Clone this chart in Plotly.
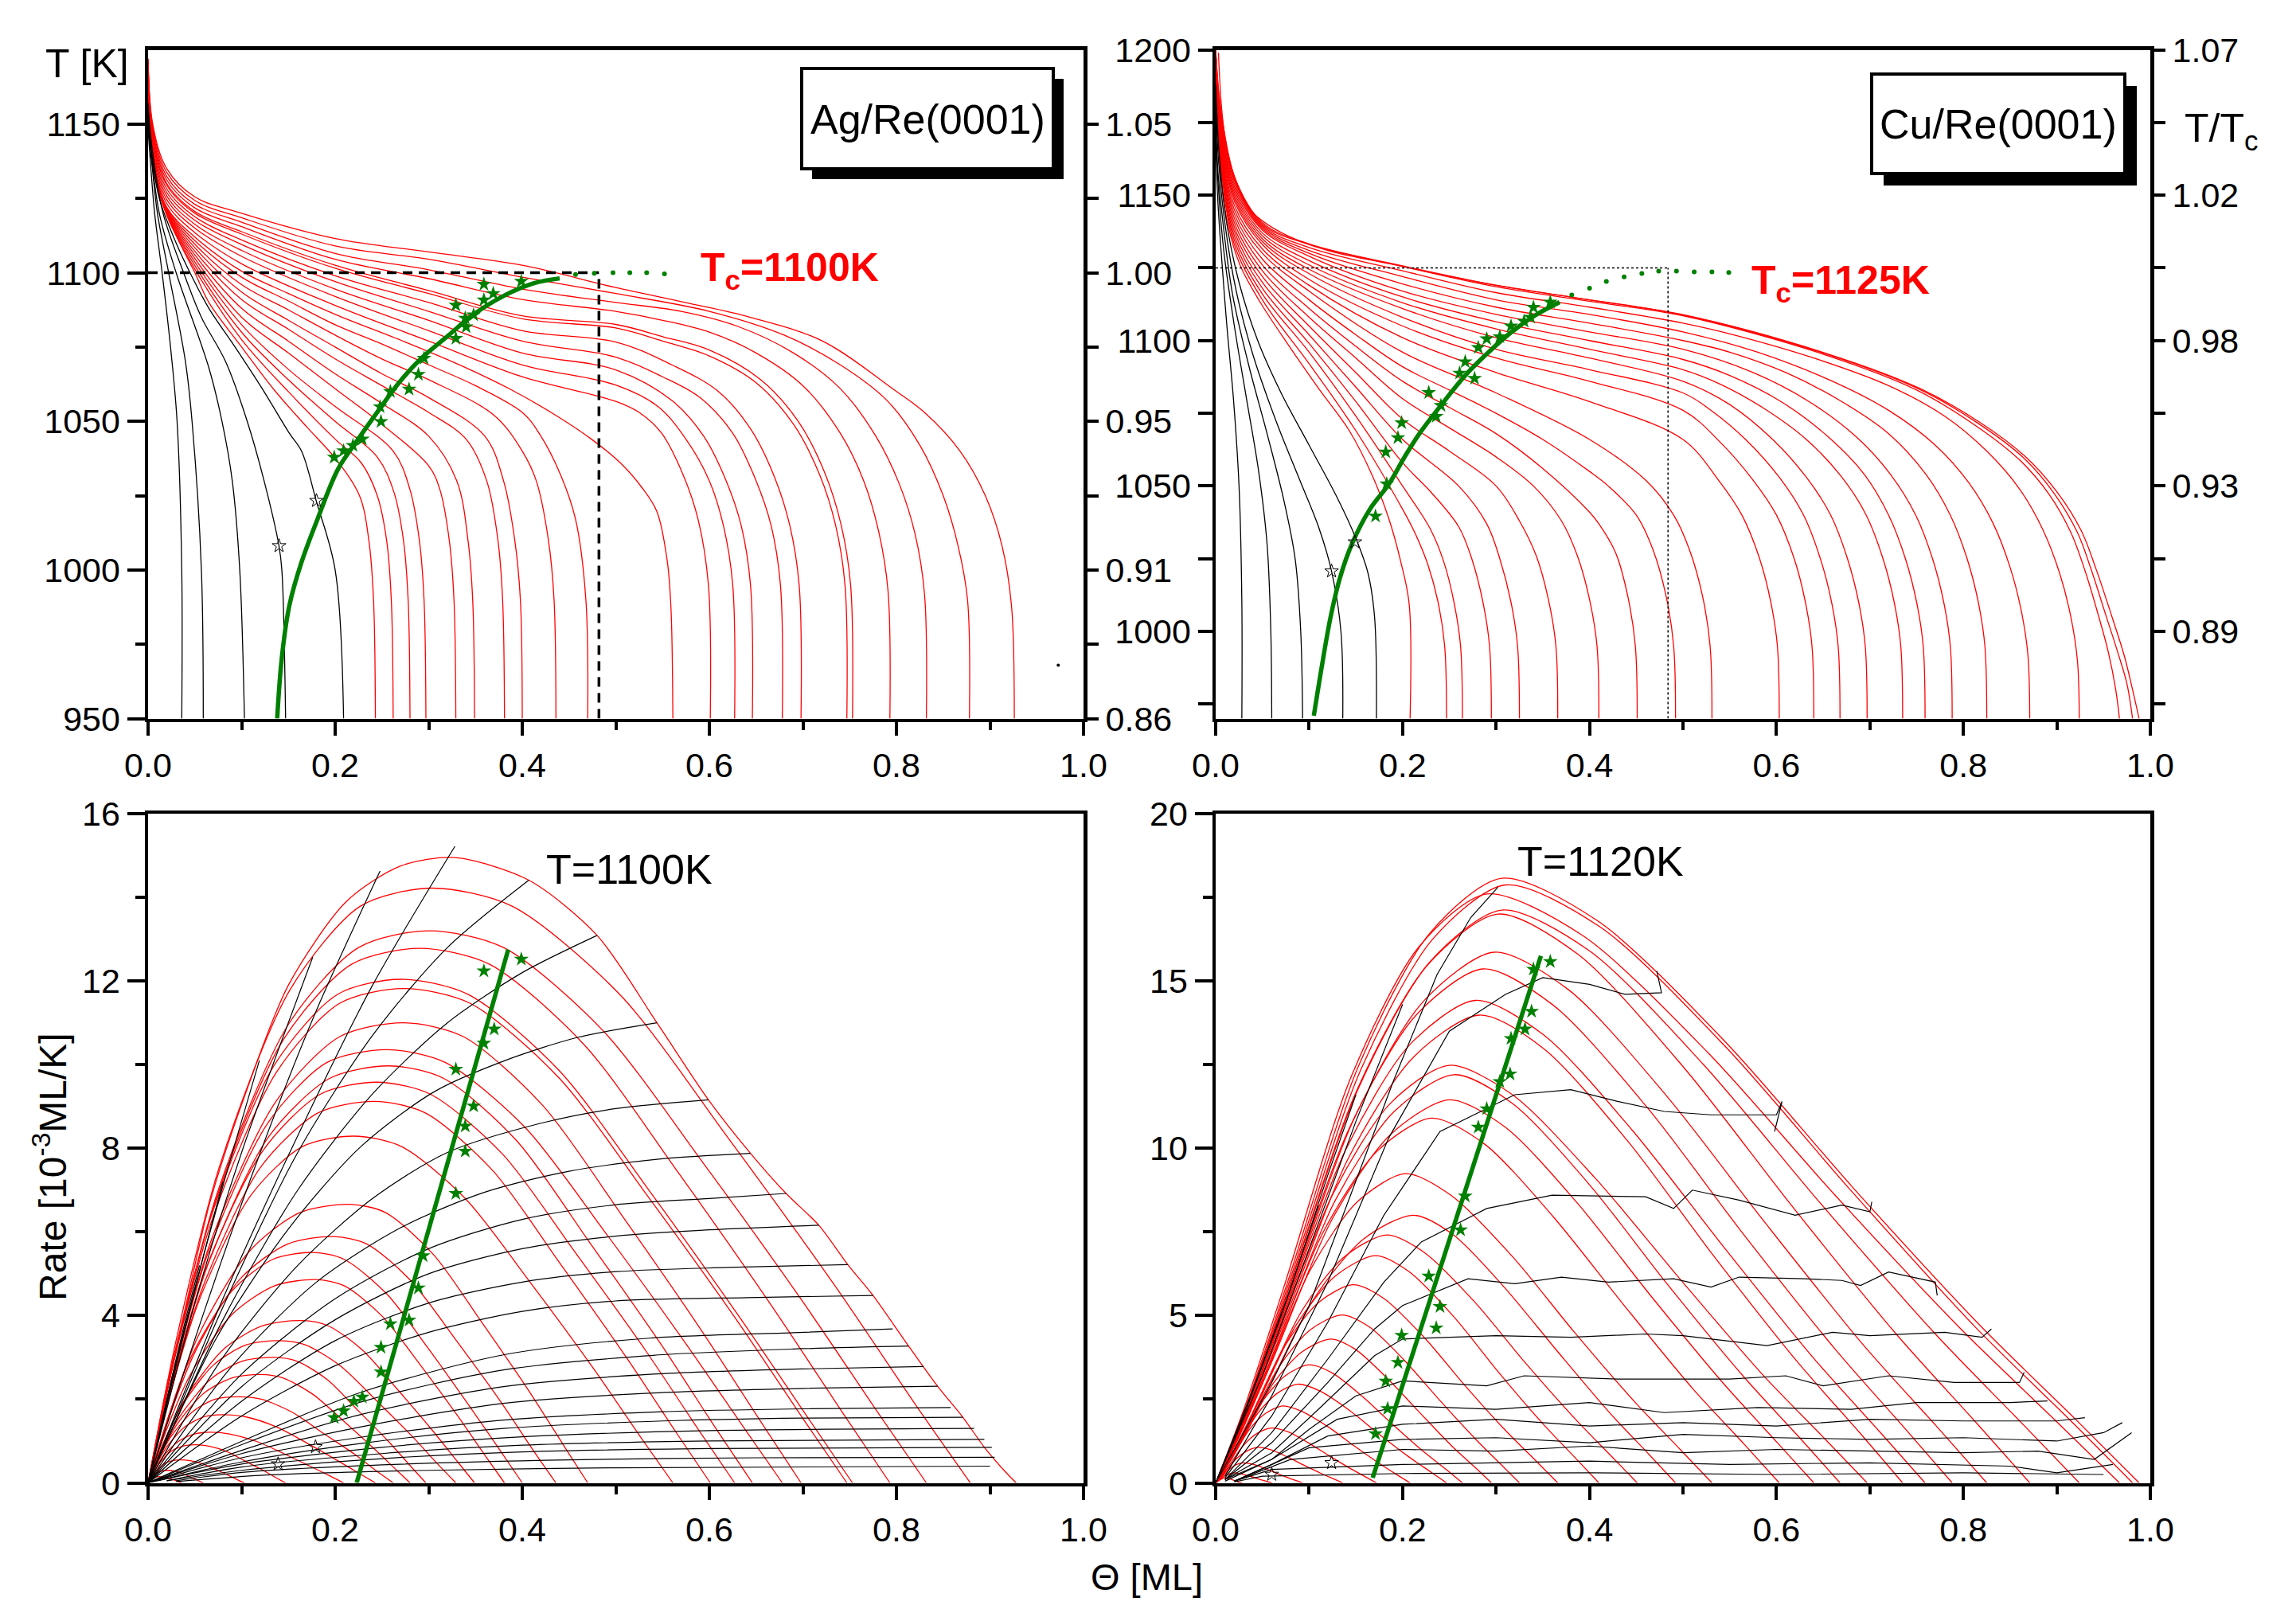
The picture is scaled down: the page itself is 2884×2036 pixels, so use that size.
import plotly.graph_objects as go

W, H = 2884, 2036

# ======================= DATA =======================
# ---- Top-left: Ag/Re(0001), coverage Theta [ML] vs temperature T [K] ----
AG_TC = 1100
AG_THETA_C = 0.482
AG_RED = [
    [[0.243,950],[0.241,990],[0.236,1010],[0.226,1025],[0.2,1037.6],[0.17,1048],[0.135,1060.5],[0.1,1075],[0.065,1090],[0.05,1100],[0.031,1112],[0.014,1126],[0.006,1138],[0,1162]],
    [[0.262,950],[0.26,990],[0.255,1010],[0.245,1025],[0.228,1036],[0.2,1044],[0.15,1060],[0.1,1077.5],[0.05,1101.2],[0.02,1119.3],[0.005,1136.2],[0,1163]],
    [[0.28,950],[0.278,990],[0.273,1010],[0.263,1026],[0.245,1038],[0.2,1050],[0.15,1064],[0.1,1080],[0.05,1102.4],[0.02,1119.6],[0.005,1136.4],[0,1163]],
    [[0.297,950],[0.295,990],[0.29,1010],[0.28,1027],[0.262,1040],[0.2,1055],[0.15,1067.5],[0.1,1082.5],[0.05,1103.6],[0.02,1119.9],[0.005,1136.6],[0,1164]],
    [[0.329,950],[0.327,990],[0.322,1010],[0.312,1027],[0.3,1035],[0.25,1049],[0.2,1061],[0.15,1073],[0.1,1085],[0.05,1104.8],[0.02,1120.2],[0.005,1136.8],[0,1164]],
    [[0.349,950],[0.347,990],[0.342,1010],[0.33,1030],[0.3,1045],[0.25,1056],[0.2,1066],[0.15,1077],[0.1,1088],[0.05,1106],[0.02,1120.5],[0.005,1137],[0,1165]],
    [[0.381,950],[0.379,990],[0.374,1010],[0.362,1030],[0.34,1044],[0.3,1053],[0.25,1062],[0.2,1071],[0.15,1081],[0.1,1091],[0.05,1107.2],[0.02,1120.8],[0.005,1137.2],[0,1165]],
    [[0.4,950],[0.398,990],[0.392,1010],[0.38,1030],[0.36,1045],[0.3,1058],[0.25,1066],[0.2,1075],[0.15,1084],[0.1,1093.5],[0.05,1108.4],[0.02,1121.1],[0.005,1137.4],[0,1166]],
    [[0.436,950],[0.434,990],[0.428,1010],[0.415,1030],[0.4,1040],[0.37,1052],[0.3,1064],[0.25,1071],[0.2,1079],[0.15,1087.5],[0.1,1096],[0.05,1109.6],[0.02,1121.4],[0.005,1137.6],[0,1166]],
    [[0.47,950],[0.468,990],[0.457,1017],[0.441,1032],[0.418,1046],[0.4,1053],[0.35,1062],[0.3,1069],[0.25,1076],[0.2,1082.5],[0.15,1090.5],[0.1,1098.5],[0.05,1110.8],[0.02,1121.7],[0.005,1137.8],[0,1167]],
    [[0.561,950],[0.559,987],[0.555,1003],[0.544,1019.6],[0.528,1027.7],[0.505,1036],[0.474,1044],[0.436,1052],[0.389,1060.5],[0.335,1068.7],[0.274,1076.8],[0.2,1086],[0.15,1093],[0.1,1100.5],[0.05,1112],[0.02,1122],[0.005,1138],[0,1167]],
    [[0.601,950],[0.599,995],[0.588,1017],[0.572,1032],[0.549,1046],[0.525,1053],[0.5,1056.7],[0.4,1065],[0.3,1077],[0.2,1089],[0.1,1103],[0.05,1113.5],[0.02,1123.3],[0.005,1139.2],[0,1168]],
    [[0.627,950],[0.625,995],[0.615,1015],[0.6,1030],[0.575,1044],[0.545,1055],[0.5,1062.2],[0.4,1069],[0.3,1080.5],[0.2,1092],[0.1,1105.5],[0.05,1115],[0.02,1124.6],[0.005,1140.4],[0,1168]],
    [[0.646,950],[0.644,995],[0.634,1015],[0.618,1030],[0.594,1045],[0.56,1057],[0.5,1067.3],[0.4,1073],[0.3,1084],[0.2,1094.5],[0.1,1107.5],[0.05,1116.3],[0.02,1125.8],[0.005,1141.6],[0,1169]],
    [[0.678,950],[0.676,995],[0.666,1015],[0.65,1030],[0.625,1046],[0.59,1058],[0.55,1065],[0.5,1071.6],[0.4,1077],[0.3,1087],[0.2,1097],[0.1,1109.5],[0.05,1117.6],[0.02,1127],[0.005,1142.8],[0,1169]],
    [[0.698,950],[0.696,995],[0.686,1015],[0.67,1031],[0.645,1047],[0.61,1060],[0.56,1069],[0.5,1076.7],[0.4,1080.5],[0.3,1090],[0.2,1099],[0.1,1111],[0.05,1118.8],[0.02,1128.2],[0.005,1144],[0,1170]],
    [[0.747,950],[0.745,995],[0.735,1015],[0.718,1032],[0.69,1049],[0.65,1063],[0.6,1072],[0.55,1077],[0.5,1081.4],[0.4,1084.5],[0.3,1093],[0.2,1101.5],[0.1,1113],[0.05,1120],[0.02,1129.4],[0.005,1145.2],[0,1170]],
    [[0.753,950],[0.751,995],[0.741,1015],[0.723,1033],[0.695,1050],[0.655,1064],[0.6,1074],[0.55,1078.5],[0.5,1082.6],[0.4,1085.5],[0.3,1094],[0.2,1102.5],[0.1,1113.8],[0.05,1120.6],[0.02,1130],[0.005,1145.8],[0,1170]],
    [[0.793,950],[0.791,993],[0.781,1013],[0.765,1030],[0.74,1046],[0.7,1062],[0.65,1073],[0.6,1080],[0.55,1084],[0.5,1087],[0.4,1091],[0.3,1098],[0.2,1104.5],[0.1,1115.5],[0.05,1121.8],[0.02,1131.2],[0.005,1147],[0,1171]],
    [[0.832,950],[0.83,992],[0.82,1012],[0.803,1029],[0.778,1045],[0.74,1061],[0.69,1073],[0.63,1082],[0.57,1087],[0.5,1090],[0.4,1094.5],[0.3,1101],[0.2,1106.5],[0.1,1117],[0.05,1123],[0.02,1132.4],[0.005,1148],[0,1171]],
    [[0.878,950],[0.876,990],[0.866,1008],[0.85,1025],[0.825,1042],[0.79,1057],[0.74,1069],[0.68,1079],[0.6,1087],[0.5,1093],[0.4,1098.5],[0.3,1104.5],[0.2,1109],[0.1,1118.5],[0.05,1124.3],[0.02,1133.7],[0.005,1149],[0,1172]],
    [[0.926,950],[0.923,988],[0.913,1008],[0.895,1025],[0.868,1040],[0.83,1053],[0.798,1060.5],[0.721,1077],[0.644,1085],[0.574,1090],[0.5,1095],[0.4,1102.5],[0.3,1107],[0.2,1111.5],[0.1,1120],[0.05,1125.5],[0.02,1135],[0.005,1150],[0,1172]],
]
AG_BLACK = [
    [[0.036,950],[0.036,1000],[0.031,1050],[0.024,1075],[0.015,1100],[0.007,1120],[0.003,1135],[0,1148]],
    [[0.059,950],[0.057,1000],[0.047,1050],[0.04,1070],[0.022,1100],[0.01,1120],[0.004,1137],[0,1150]],
    [[0.103,950],[0.098,1000],[0.09,1030],[0.079,1050],[0.065,1068],[0.03,1100],[0.012,1120],[0.004,1138],[0,1152]],
    [[0.147,950],[0.143,1000],[0.14,1008],[0.124,1030],[0.106,1050],[0.083,1070],[0.057,1085],[0.038,1100],[0.016,1120],[0.005,1140],[0,1155]],
    [[0.209,950],[0.2,1000],[0.18,1023],[0.164,1040],[0.151,1046],[0.122,1061],[0.093,1075],[0.065,1088],[0.048,1098],[0.03,1110],[0.012,1125],[0.004,1140],[0,1157]],
]
AG_FIT = [[0.138,950],[0.143,970.6],[0.151,988],[0.164,1002.6],[0.181,1017],[0.203,1033.9],[0.223,1043.3],[0.246,1053.5],[0.268,1062.9],[0.291,1070.9],[0.321,1078.9],[0.346,1085.5],[0.379,1092],[0.412,1096.4],[0.44,1098.1]]
AG_STARS = [[0.199,1037.9],[0.209,1040.1],[0.219,1041.9],[0.229,1044.0],[0.249,1049.9],[0.248,1054.9],[0.259,1060.0],[0.279,1060.8],[0.289,1065.8],[0.295,1071.2],[0.329,1077.9],[0.34,1081.8],[0.339,1084.7],[0.348,1085.8],[0.329,1089.1],[0.359,1090.8],[0.369,1093.0],[0.359,1096.1],[0.399,1097.1]]
AG_OPEN_STARS = [[0.18,1023.3],[0.14,1008.1]]
AG_TC_DOTS = [[0.457,1099.4],[0.477,1099.8],[0.497,1100],[0.515,1100],[0.533,1100],[0.552,1099.6]]
AG_SPECK = [[0.973,968]]

# ---- Top-right: Cu/Re(0001) ----
CU_TC = 1125
CU_THETA_C = 0.484
CU_RED = [
    [[0.208,970],[0.207,1009.5],[0.198,1024],[0.185,1039],[0.167,1054],[0.143,1069],[0.11,1083.6],[0.078,1098.4],[0.048,1113],[0.026,1126],[0.013,1140],[0.006,1155],[0.002,1175],[0,1195]],
    [[0.247,970],[0.245,995],[0.238,1010],[0.227,1023],[0.213,1034],[0.2,1042],[0.15,1069],[0.1,1092],[0.05,1114],[0.02,1133],[0.005,1162],[0,1196]],
    [[0.264,970],[0.262,995],[0.255,1010],[0.244,1024],[0.23,1035],[0.2,1050],[0.15,1074],[0.1,1096],[0.05,1116],[0.02,1134.5],[0.005,1163],[0,1196]],
    [[0.295,970],[0.293,995],[0.286,1010],[0.274,1025],[0.26,1036],[0.23,1048],[0.2,1058],[0.15,1079],[0.1,1099],[0.05,1118],[0.02,1136],[0.005,1164],[0,1197]],
    [[0.325,970],[0.323,995],[0.316,1010],[0.304,1025],[0.29,1037],[0.26,1050],[0.2,1066],[0.15,1084],[0.1,1102],[0.05,1120],[0.02,1137.5],[0.005,1165],[0,1197]],
    [[0.366,970],[0.364,995],[0.356,1011],[0.343,1026],[0.325,1038],[0.3,1050],[0.25,1062],[0.2,1073],[0.15,1089],[0.1,1105],[0.05,1122],[0.02,1139],[0.005,1166],[0,1198]],
    [[0.41,970],[0.408,995],[0.4,1011],[0.387,1026],[0.37,1038],[0.34,1050],[0.3,1060],[0.25,1070],[0.2,1080],[0.15,1094],[0.1,1108],[0.05,1124],[0.02,1140.5],[0.005,1167],[0,1198]],
    [[0.451,970],[0.449,995],[0.441,1012],[0.428,1027],[0.41,1037],[0.4,1041],[0.35,1056],[0.3,1068],[0.25,1077],[0.2,1086],[0.15,1098],[0.1,1111],[0.05,1126],[0.02,1142],[0.005,1168],[0,1199]],
    [[0.492,970],[0.49,995],[0.482,1012],[0.468,1028],[0.45,1040],[0.42,1050],[0.4,1055],[0.35,1066],[0.3,1075],[0.25,1083],[0.2,1091],[0.15,1102],[0.1,1114],[0.05,1128],[0.02,1143.5],[0.005,1169],[0,1199]],
    [[0.531,970],[0.529,995],[0.521,1012],[0.507,1028],[0.49,1040],[0.46,1052],[0.4,1066],[0.3,1082],[0.2,1096],[0.1,1117],[0.05,1130],[0.02,1145],[0.005,1170],[0,1200]],
    [[0.603,970],[0.601,995],[0.594,1010],[0.582,1025],[0.563,1040],[0.538,1052],[0.5,1066],[0.4,1079],[0.3,1089],[0.2,1101],[0.1,1119],[0.05,1131.5],[0.02,1146.5],[0.005,1171],[0,1200]],
    [[0.64,970],[0.638,995],[0.631,1010],[0.619,1025],[0.6,1040],[0.575,1052],[0.54,1065],[0.5,1076],[0.4,1086],[0.3,1094],[0.2,1105],[0.1,1121],[0.05,1133],[0.02,1148],[0.005,1172],[0,1200]],
    [[0.668,970],[0.666,995],[0.659,1010],[0.647,1025],[0.629,1040],[0.603,1053],[0.567,1066],[0.53,1076],[0.5,1082],[0.4,1090],[0.3,1097],[0.2,1108],[0.1,1123],[0.05,1134],[0.02,1149],[0.005,1173],[0,1200]],
    [[0.697,970],[0.695,995],[0.688,1010],[0.676,1025],[0.658,1040],[0.632,1053],[0.596,1066],[0.55,1078],[0.5,1086],[0.4,1094],[0.3,1101],[0.2,1111],[0.1,1124.5],[0.05,1135],[0.02,1150],[0.005,1174],[0,1200]],
    [[0.735,970],[0.733,995],[0.726,1010],[0.714,1025],[0.696,1040],[0.67,1053],[0.632,1066],[0.585,1077],[0.54,1085],[0.5,1090],[0.4,1097],[0.3,1104],[0.2,1113],[0.1,1126],[0.05,1136],[0.02,1151],[0.005,1175],[0,1200]],
    [[0.759,970],[0.757,995],[0.75,1010],[0.738,1025],[0.72,1040],[0.694,1054],[0.655,1067],[0.605,1079],[0.55,1088],[0.5,1093.5],[0.4,1100],[0.3,1106.5],[0.2,1115],[0.1,1127.5],[0.05,1137],[0.02,1152],[0.005,1176],[0,1200]],
    [[0.788,970],[0.786,995],[0.779,1010],[0.767,1025],[0.749,1040],[0.722,1054],[0.685,1067],[0.635,1079],[0.575,1089],[0.5,1097],[0.4,1103],[0.3,1109],[0.2,1117],[0.1,1129],[0.05,1138],[0.02,1153],[0.005,1177],[0,1200]],
    [[0.825,970],[0.823,995],[0.816,1010],[0.804,1025],[0.786,1040],[0.76,1054],[0.72,1068],[0.67,1079],[0.61,1089],[0.55,1096],[0.5,1100],[0.4,1106],[0.3,1111.5],[0.2,1119.5],[0.1,1130],[0.05,1138.5],[0.02,1154],[0.005,1177.5],[0,1200]],
    [[0.871,970],[0.869,992],[0.862,1007],[0.85,1022],[0.832,1037],[0.806,1051],[0.77,1064],[0.72,1076],[0.66,1086],[0.58,1096],[0.5,1103],[0.4,1109],[0.3,1114],[0.2,1122],[0.1,1131],[0.05,1139],[0.02,1155],[0.005,1178.5],[0,1200]],
    [[0.924,970],[0.922,990],[0.915,1005],[0.903,1020],[0.885,1035],[0.86,1049],[0.825,1062],[0.78,1074],[0.72,1084.5],[0.64,1094],[0.56,1101.5],[0.5,1106],[0.4,1111.5],[0.3,1116.5],[0.2,1124],[0.1,1132],[0.05,1139.5],[0.02,1155.5],[0.005,1179],[0,1200]],
    [[0.967,970],[0.963,980],[0.955,993],[0.944,1006],[0.93,1021],[0.915,1034],[0.892,1047],[0.86,1059],[0.812,1071],[0.75,1083],[0.653,1095],[0.5,1108.5],[0.4,1113.5],[0.3,1118.5],[0.2,1125.5],[0.1,1133],[0.05,1140],[0.02,1156],[0.005,1180],[0,1200]],
    [[0.981,970],[0.975,982],[0.965,993],[0.952,1006],[0.937,1021],[0.922,1034],[0.897,1047.5],[0.865,1059.5],[0.816,1071.5],[0.752,1083.4],[0.655,1095.2],[0.5,1108.7],[0.4,1114],[0.3,1119],[0.2,1125.7],[0.1,1133.2],[0.05,1140.5],[0.02,1156.5],[0.005,1181],[0,1200]],
    [[0.988,970],[0.981,980],[0.972,991.8],[0.959,1005],[0.942,1021.4],[0.926,1034.7],[0.9,1048],[0.867,1059.9],[0.818,1071.8],[0.753,1083.6],[0.655,1095.4],[0.5,1108.9],[0.381,1114.9],[0.283,1120],[0.185,1126.5],[0.12,1131],[0.071,1137],[0.039,1144.3],[0.022,1154.6],[0.009,1172.4],[0.003,1199]],
]
CU_BLACK = [
    [[0.028,970],[0.028,1010],[0.025,1050],[0.019,1080],[0.012,1105],[0.006,1130],[0.002,1150],[0,1170]],
    [[0.06,970],[0.059,1000],[0.055,1030],[0.046,1055],[0.033,1080],[0.02,1105],[0.009,1130],[0.003,1152],[0,1175]],
    [[0.093,970],[0.091,1000],[0.085,1025],[0.073,1045],[0.055,1068],[0.035,1092],[0.018,1116],[0.008,1140],[0.002,1160],[0,1180]],
    [[0.136,970],[0.134,1000],[0.124,1020.7],[0.11,1036],[0.09,1052],[0.065,1072],[0.04,1095],[0.022,1117],[0.01,1140],[0.003,1162],[0,1185]],
    [[0.172,970],[0.17,1005],[0.163,1020],[0.15,1032],[0.13,1046],[0.1,1064],[0.07,1082],[0.045,1100],[0.025,1120],[0.012,1140],[0.004,1163],[0,1188]],
]
CU_FIT = [[0.105,971],[0.114,988.8],[0.123,1005],[0.133,1018.4],[0.146,1030.2],[0.165,1042],[0.185,1050.5],[0.202,1059.9],[0.218,1068],[0.241,1077.7],[0.267,1088],[0.29,1095.4],[0.316,1102.8],[0.342,1108.7],[0.368,1113.2]]
CU_STARS = [[0.171,1039.6],[0.183,1050.7],[0.182,1061.7],[0.195,1066.6],[0.199,1071.7],[0.228,1082.1],[0.236,1073.9],[0.241,1077.7],[0.261,1088.8],[0.277,1087],[0.267,1092.7],[0.281,1097.6],[0.29,1100.6],[0.304,1101.3],[0.316,1105],[0.33,1106.6],[0.34,1111.4],[0.337,1108],[0.358,1113.2]]
CU_OPEN_STARS = [[0.149,1030.7],[0.124,1020.7]]
CU_TC_DOTS = [[0.381,1115.7],[0.4,1118],[0.418,1120.3],[0.437,1121.9],[0.456,1123.1],[0.474,1123.9],[0.493,1123.9],[0.512,1123.6],[0.531,1123.6],[0.549,1123.4]]

# ---- Bottom-left: Ag rate [1e-3 ML/K] vs Theta ----
AG_RATE_RED = [
    [[0,0],[0.02,2.3],[0.04,4.2],[0.066,6.7],[0.104,9.3],[0.15,11.9],[0.212,13.9],[0.27,14.75],[0.328,14.95],[0.407,14.41],[0.48,13.09],[0.544,11.0],[0.599,9.16],[0.644,7.88],[0.682,6.92],[0.717,6.16],[0.748,5.22],[0.775,4.48],[0.813,3.27],[0.844,2.31],[0.871,1.57],[0.894,0.85],[0.915,0.3],[0.928,0]],
    [[0,0],[0.03,3.41],[0.076,7.54],[0.152,11.8],[0.227,13.79],[0.303,14.22],[0.389,13.79],[0.505,11.66],[0.62,8.25],[0.735,4.69],[0.821,1.85],[0.879,0]],
    [[0,0],[0.03,3.17],[0.075,7.0],[0.15,10.96],[0.225,12.8],[0.3,13.2],[0.38,12.8],[0.486,10.82],[0.593,7.66],[0.699,4.36],[0.779,1.72],[0.832,0]],
    [[0,0],[0.029,3.07],[0.0725,6.77],[0.145,10.61],[0.2175,12.4],[0.29,12.78],[0.365,12.4],[0.466,10.48],[0.567,7.41],[0.667,4.22],[0.743,1.66],[0.793,0]],
    [[0,0],[0.027,2.89],[0.0675,6.38],[0.135,9.99],[0.2025,11.68],[0.27,12.04],[0.342,11.68],[0.439,9.87],[0.536,6.98],[0.632,3.97],[0.705,1.57],[0.753,0]],
    [[0,0],[0.027,2.84],[0.068,6.26],[0.137,9.81],[0.205,11.47],[0.273,11.82],[0.344,11.47],[0.439,9.69],[0.534,6.86],[0.629,3.9],[0.7,1.54],[0.747,0]],
    [[0,0],[0.027,2.64],[0.068,5.83],[0.137,9.13],[0.205,10.67],[0.273,11.0],[0.337,10.67],[0.422,9.02],[0.507,6.38],[0.592,3.63],[0.656,1.43],[0.698,0]],
    [[0,0],[0.026,2.49],[0.064,5.49],[0.128,8.6],[0.191,10.05],[0.255,10.36],[0.318,10.05],[0.403,8.5],[0.488,6.01],[0.572,3.42],[0.636,1.35],[0.678,0]],
    [[0,0],[0.026,2.39],[0.065,5.28],[0.129,8.28],[0.194,9.67],[0.258,9.97],[0.316,9.67],[0.394,8.18],[0.471,5.78],[0.549,3.29],[0.607,1.3],[0.646,0]],
    [[0,0],[0.025,2.3],[0.061,5.08],[0.123,7.95],[0.184,9.29],[0.245,9.58],[0.302,9.29],[0.379,7.86],[0.455,5.56],[0.532,3.16],[0.589,1.25],[0.627,0]],
    [[0,0],[0.024,2.19],[0.061,4.83],[0.121,7.57],[0.182,8.85],[0.242,9.12],[0.296,8.85],[0.368,7.48],[0.439,5.29],[0.511,3.01],[0.565,1.19],[0.601,0]],
    [[0,0],[0.022,1.99],[0.055,4.39],[0.11,6.88],[0.165,8.04],[0.22,8.29],[0.271,8.04],[0.339,6.8],[0.408,4.81],[0.476,2.74],[0.527,1.08],[0.561,0]],
    [[0,0],[0.022,1.6],[0.054,3.53],[0.108,5.53],[0.162,6.46],[0.216,6.66],[0.254,6.46],[0.305,5.46],[0.356,3.86],[0.407,2.2],[0.445,0.87],[0.47,0]],
    [[0,0],[0.02,1.41],[0.05,3.12],[0.099,4.89],[0.149,5.71],[0.198,5.89],[0.234,5.71],[0.281,4.83],[0.329,3.42],[0.377,1.94],[0.412,0.77],[0.436,0]],
    [[0,0],[0.018,1.32],[0.044,2.92],[0.089,4.57],[0.133,5.34],[0.177,5.51],[0.21,5.34],[0.255,4.52],[0.3,3.2],[0.344,1.82],[0.378,0.72],[0.4,0]],
    [[0,0],[0.018,1.17],[0.045,2.58],[0.09,4.03],[0.135,4.71],[0.18,4.86],[0.21,4.71],[0.25,3.99],[0.291,2.82],[0.331,1.6],[0.361,0.63],[0.381,0]],
    [[0,0],[0.016,0.93],[0.041,2.06],[0.082,3.22],[0.123,3.76],[0.164,3.88],[0.192,3.76],[0.229,3.18],[0.266,2.25],[0.303,1.28],[0.331,0.5],[0.349,0]],
    [[0,0],[0.014,0.82],[0.035,1.8],[0.07,2.82],[0.105,3.3],[0.14,3.4],[0.168,3.3],[0.206,2.79],[0.244,1.97],[0.282,1.12],[0.31,0.44],[0.329,0]],
    [[0,0],[0.0135,0.72],[0.034,1.59],[0.0675,2.49],[0.101,2.91],[0.135,3.0],[0.159,2.91],[0.192,2.46],[0.224,1.74],[0.257,0.99],[0.281,0.39],[0.297,0]],
    [[0,0],[0.012,0.62],[0.03,1.37],[0.06,2.15],[0.09,2.51],[0.12,2.59],[0.144,2.51],[0.176,2.12],[0.208,1.5],[0.24,0.85],[0.264,0.34],[0.28,0]],
    [[0,0],[0.0096,0.49],[0.024,1.09],[0.048,1.71],[0.072,2.0],[0.096,2.06],[0.121,2.0],[0.154,1.69],[0.187,1.19],[0.221,0.68],[0.245,0.27],[0.262,0]],
    [[0,0],[0.008,0.39],[0.02,0.86],[0.04,1.35],[0.06,1.58],[0.08,1.63],[0.104,1.58],[0.137,1.34],[0.17,0.95],[0.202,0.54],[0.227,0.21],[0.243,0]],
    [[0,0],[0.0066,0.29],[0.0165,0.64],[0.033,1.0],[0.0495,1.17],[0.066,1.21],[0.087,1.17],[0.116,0.99],[0.145,0.7],[0.173,0.4],[0.195,0.16],[0.209,0]],
    [[0,0],[0.005,0.22],[0.0125,0.48],[0.025,0.76],[0.0375,0.88],[0.05,0.91],[0.065,0.88],[0.084,0.75],[0.103,0.53],[0.123,0.3],[0.137,0.12],[0.147,0]],
    [[0,0],[0.0035,0.13],[0.009,0.29],[0.0175,0.46],[0.026,0.53],[0.035,0.55],[0.045,0.53],[0.059,0.45],[0.072,0.32],[0.086,0.18],[0.096,0.07],[0.103,0]],
    [[0,0],[0.005,0.16],[0.01,0.25],[0.02,0.3],[0.034,0.25],[0.049,0.1],[0.059,0]],
    [[0,0],[0.006,0.12],[0.012,0.15],[0.02,0.12],[0.03,0.05],[0.036,0]],
]
AG_RATE_BLACK = [
    [[0,0],[0.02,2.0],[0.04,3.9],[0.055,5.2]],
    [[0,0],[0.03,2.8],[0.06,5.5],[0.08,7.2]],
    [[0,0],[0.04,3.8],[0.08,7.1],[0.119,10.1]],
    [[0,0],[0.05,4.3],[0.1,7.9],[0.176,12.57]],
    [[0,0],[0.06,4.1],[0.12,7.9],[0.18,11.3],[0.248,14.63]],
    [[0,0],[0.08,4.4],[0.16,8.3],[0.24,11.9],[0.328,15.22]],
    [[0,0],[0.08,4.2],[0.16,7.9],[0.24,10.7],[0.32,12.8],[0.407,14.41]],
    [[0,0],[0.08,3.9],[0.16,7.0],[0.24,9.3],[0.32,11.0],[0.4,12.2],[0.48,13.09]],
    [[0,0],[0.073,3.46],[0.15,6.07],[0.227,8.03],[0.305,9.34],[0.382,10.1],[0.459,10.65],[0.544,11.0]],
    [[0,0],[0.08,3.0],[0.16,5.2],[0.24,6.8],[0.32,7.9],[0.42,8.6],[0.5,8.95],[0.599,9.16]],
    [[0,0],[0.09,2.8],[0.18,4.8],[0.27,6.1],[0.36,6.95],[0.45,7.45],[0.55,7.75],[0.644,7.88]],
    [[0,0],[0.1,2.6],[0.2,4.4],[0.3,5.6],[0.4,6.3],[0.5,6.65],[0.6,6.8],[0.682,6.92]],
    [[0,0],[0.1,2.3],[0.2,3.9],[0.3,5.0],[0.4,5.6],[0.5,5.9],[0.6,6.05],[0.717,6.16]],
    [[0,0],[0.1,1.95],[0.2,3.4],[0.3,4.3],[0.4,4.8],[0.5,5.05],[0.62,5.15],[0.748,5.22]],
    [[0,0],[0.1,1.6],[0.2,2.8],[0.3,3.6],[0.4,4.1],[0.5,4.35],[0.64,4.43],[0.775,4.48]],
    [[0,0],[0.112,1.11],[0.227,2.16],[0.382,3.07],[0.536,3.46],[0.69,3.59],[0.796,3.68]],
    [[0,0],[0.11,1.0],[0.23,1.95],[0.38,2.7],[0.54,3.05],[0.69,3.2],[0.813,3.27]],
    [[0,0],[0.11,0.85],[0.23,1.65],[0.38,2.3],[0.54,2.6],[0.69,2.72],[0.829,2.78]],
    [[0,0],[0.1,0.7],[0.23,1.35],[0.38,1.9],[0.54,2.15],[0.7,2.26],[0.844,2.31]],
    [[0,0],[0.1,0.6],[0.23,1.1],[0.38,1.5],[0.55,1.7],[0.7,1.77],[0.858,1.8]],
    [[0,0],[0.1,0.5],[0.23,0.95],[0.38,1.3],[0.55,1.48],[0.7,1.55],[0.871,1.57]],
    [[0.01,0.05],[0.1,0.45],[0.25,0.85],[0.4,1.1],[0.6,1.25],[0.883,1.3]],
    [[0.02,0.05],[0.1,0.38],[0.25,0.7],[0.4,0.9],[0.6,1.0],[0.894,1.04]],
    [[0.02,0.05],[0.1,0.3],[0.25,0.58],[0.4,0.74],[0.6,0.82],[0.902,0.85]],
    [[0.03,0.05],[0.1,0.25],[0.25,0.43],[0.45,0.55],[0.65,0.6],[0.905,0.61]],
    [[0.03,0.03],[0.12,0.18],[0.3,0.3],[0.5,0.36],[0.9,0.4]],
]
AG_RATE_FIT = [[0.223,0.0],[0.385,12.75]]
AG_RATE_STARS = [[0.399,12.52],[0.359,12.24],[0.37,10.85],[0.359,10.51],[0.329,9.89],[0.348,9.01],[0.339,8.53],[0.339,7.93],[0.329,6.92],[0.294,5.43],[0.289,4.66],[0.279,3.89],[0.259,3.8],[0.249,3.24],[0.249,2.65],[0.229,2.05],[0.22,1.95],[0.209,1.72],[0.199,1.56]]
AG_RATE_OPEN = [[0.179,0.86],[0.139,0.45]]

# ---- Bottom-right: Cu rate vs Theta ----
CU_RATE_RED = [
    [[0,0],[0.031,2.17],[0.0765,5.96],[0.153,12.47],[0.2295,16.44],[0.306,18.07],[0.408,16.81],[0.545,13.19],[0.681,8.85],[0.818,4.7],[0.92,1.9],[0.988,0]],
    [[0,0],[0.031,2.14],[0.0775,5.9],[0.155,12.33],[0.2325,16.26],[0.31,17.87],[0.411,16.62],[0.545,13.05],[0.679,8.76],[0.813,4.65],[0.914,1.88],[0.981,0]],
    [[0,0],[0.029,2.11],[0.0725,5.81],[0.145,12.14],[0.2175,16.02],[0.29,17.6],[0.392,16.37],[0.527,12.85],[0.662,8.62],[0.798,4.58],[0.899,1.85],[0.967,0]],
    [[0,0],[0.031,2.05],[0.0765,5.65],[0.153,11.81],[0.2295,15.58],[0.306,17.12],[0.399,15.92],[0.522,12.5],[0.646,8.39],[0.77,4.45],[0.862,1.8],[0.924,0]],
    [[0,0],[0.03,2.04],[0.0755,5.61],[0.151,11.73],[0.2265,15.47],[0.302,17.0],[0.387,15.81],[0.501,12.41],[0.615,8.33],[0.729,4.42],[0.814,1.79],[0.871,0]],
    [[0,0],[0.03,1.9],[0.0745,5.23],[0.149,10.94],[0.2235,14.43],[0.298,15.86],[0.377,14.75],[0.482,11.58],[0.588,7.77],[0.693,4.12],[0.772,1.67],[0.825,0]],
    [[0,0],[0.029,1.84],[0.0715,5.07],[0.143,10.6],[0.2145,13.98],[0.286,15.36],[0.361,14.28],[0.462,11.21],[0.562,7.53],[0.663,3.99],[0.738,1.61],[0.788,0]],
    [[0,0],[0.028,1.73],[0.0695,4.76],[0.139,9.95],[0.2085,13.12],[0.278,14.42],[0.35,13.41],[0.446,10.53],[0.543,7.07],[0.639,3.75],[0.711,1.51],[0.759,0]],
    [[0,0],[0.028,1.68],[0.0705,4.61],[0.141,9.65],[0.2115,12.72],[0.282,13.98],[0.35,13.0],[0.441,10.21],[0.531,6.85],[0.622,3.63],[0.69,1.47],[0.735,0]],
    [[0,0],[0.025,1.5],[0.0625,4.12],[0.125,8.61],[0.1875,11.36],[0.25,12.48],[0.317,11.61],[0.406,9.11],[0.496,6.12],[0.585,3.24],[0.652,1.31],[0.697,0]],
    [[0,0],[0.0255,1.46],[0.064,4.03],[0.1275,8.42],[0.191,11.1],[0.255,12.2],[0.317,11.35],[0.4,8.91],[0.482,5.98],[0.565,3.17],[0.627,1.28],[0.668,0]],
    [[0,0],[0.025,1.37],[0.0625,3.78],[0.125,7.9],[0.1875,10.42],[0.25,11.45],[0.309,10.65],[0.387,8.36],[0.465,5.61],[0.543,2.98],[0.601,1.2],[0.64,0]],
    [[0,0],[0.023,1.31],[0.058,3.6],[0.1155,7.52],[0.173,9.92],[0.231,10.9],[0.287,10.14],[0.361,7.96],[0.436,5.34],[0.51,2.83],[0.566,1.14],[0.603,0]],
    [[0,0],[0.02,1.11],[0.051,3.05],[0.1015,6.38],[0.152,8.41],[0.203,9.24],[0.252,8.59],[0.318,6.75],[0.383,4.53],[0.449,2.4],[0.498,0.97],[0.531,0]],
    [[0,0],[0.021,0.96],[0.053,2.64],[0.1055,5.52],[0.158,7.28],[0.211,8.0],[0.253,7.44],[0.309,5.84],[0.366,3.92],[0.422,2.08],[0.464,0.84],[0.492,0]],
    [[0,0],[0.018,0.89],[0.046,2.45],[0.0915,5.11],[0.137,6.74],[0.183,7.41],[0.223,6.89],[0.277,5.41],[0.33,3.63],[0.384,1.93],[0.424,0.78],[0.451,0]],
    [[0,0],[0.017,0.81],[0.043,2.24],[0.0855,4.69],[0.128,6.18],[0.171,6.79],[0.207,6.31],[0.255,4.96],[0.302,3.33],[0.35,1.77],[0.386,0.71],[0.41,0]],
    [[0,0],[0.015,0.71],[0.037,1.95],[0.0735,4.08],[0.11,5.39],[0.147,5.92],[0.18,5.51],[0.224,4.32],[0.267,2.9],[0.311,1.54],[0.344,0.62],[0.366,0]],
    [[0,0],[0.0135,0.6],[0.034,1.66],[0.0675,3.46],[0.101,4.57],[0.135,5.02],[0.164,4.67],[0.202,3.66],[0.24,2.46],[0.278,1.31],[0.306,0.53],[0.325,0]],
    [[0,0],[0.012,0.52],[0.031,1.42],[0.0615,2.97],[0.092,3.91],[0.123,4.3],[0.149,4.0],[0.183,3.14],[0.218,2.11],[0.252,1.12],[0.278,0.45],[0.295,0]],
    [[0,0],[0.01,0.42],[0.025,1.16],[0.05,2.44],[0.075,3.21],[0.1,3.53],[0.125,3.28],[0.157,2.58],[0.19,1.73],[0.223,0.92],[0.248,0.37],[0.264,0]],
    [[0,0],[0.009,0.35],[0.022,0.97],[0.044,2.04],[0.066,2.68],[0.088,2.95],[0.112,2.74],[0.144,2.15],[0.175,1.45],[0.207,0.77],[0.231,0.31],[0.247,0]],
    [[0,0],[0.007,0.28],[0.018,0.76],[0.036,1.59],[0.054,2.09],[0.072,2.3],[0.092,2.14],[0.12,1.68],[0.147,1.13],[0.174,0.6],[0.194,0.24],[0.208,0]],
    [[0,0],[0.006,0.2],[0.015,0.54],[0.03,1.13],[0.045,1.49],[0.06,1.64],[0.077,1.53],[0.099,1.2],[0.122,0.8],[0.144,0.43],[0.161,0.17],[0.172,0]],
    [[0,0],[0.0045,0.13],[0.011,0.35],[0.0225,0.73],[0.034,0.96],[0.045,1.06],[0.059,0.99],[0.077,0.77],[0.095,0.52],[0.113,0.28],[0.127,0.11],[0.136,0]],
    [[0,0],[0.0075,0.2],[0.015,0.41],[0.0225,0.55],[0.03,0.6],[0.039,0.56],[0.052,0.44],[0.065,0.29],[0.077,0.16],[0.087,0.06],[0.093,0]],
    [[0,0],[0.005,0.1],[0.01,0.21],[0.02,0.3],[0.034,0.22],[0.05,0.08],[0.06,0]],
    [[0,0],[0.005,0.1],[0.01,0.15],[0.016,0.11],[0.023,0.04],[0.028,0]],
]
CU_RATE_BLACK = [
    [[0,0],[0.06,3.0],[0.1,5.3],[0.15,9.0],[0.19,12.0],[0.237,15.2],[0.273,16.9],[0.302,17.8]],
    [[0,0],[0.05,3.2],[0.1,7.0],[0.15,10.8],[0.2,14.3]],
    [[0,0],[0.04,2.8],[0.08,5.8],[0.12,9.2],[0.15,11.6]],
    [[0,0],[0.03,2.0],[0.07,5.0],[0.11,8.3]],
    [[0.01,0.2],[0.06,2.6],[0.12,6.0],[0.185,10.3],[0.25,13.5],[0.31,14.6],[0.35,15.1],[0.4,14.9],[0.438,14.6],[0.477,14.65],[0.472,15.3]],
    [[0.01,0.15],[0.06,2.0],[0.12,4.8],[0.18,8.0],[0.24,10.5],[0.32,11.6],[0.38,11.75],[0.43,11.4],[0.48,11.1],[0.53,11.0],[0.6,11.0],[0.606,11.4],[0.598,10.5]],
    [[0.01,0.1],[0.06,1.5],[0.12,3.7],[0.18,6.0],[0.22,7.2],[0.29,8.2],[0.36,8.6],[0.46,8.55],[0.49,8.2],[0.51,8.75],[0.56,8.45],[0.62,8.0],[0.67,8.3],[0.7,8.1],[0.702,8.4]],
    [[0.01,0.1],[0.06,1.2],[0.12,3.0],[0.17,4.6],[0.2,5.3],[0.27,6.1],[0.32,5.95],[0.37,6.15],[0.42,6.0],[0.49,6.1],[0.53,5.85],[0.56,6.15],[0.63,6.1],[0.67,6.05],[0.69,5.9],[0.72,6.3],[0.77,6.0],[0.772,5.6]],
    [[0.01,0.1],[0.06,0.9],[0.11,2.2],[0.17,3.8],[0.2,4.3],[0.3,4.4],[0.38,4.35],[0.46,4.45],[0.5,4.4],[0.59,4.1],[0.66,4.5],[0.7,4.4],[0.78,4.5],[0.82,4.35],[0.83,4.6]],
    [[0.01,0.1],[0.06,0.7],[0.1,1.6],[0.15,2.6],[0.2,3.05],[0.29,2.9],[0.33,3.2],[0.43,3.1],[0.55,3.1],[0.61,3.2],[0.65,2.9],[0.72,3.2],[0.79,3.0],[0.86,3.0],[0.865,3.3]],
    [[0.01,0.05],[0.06,0.7],[0.13,1.9],[0.2,2.3],[0.3,2.2],[0.4,2.4],[0.48,2.1],[0.58,2.25],[0.68,2.2],[0.75,2.4],[0.85,2.4],[0.89,2.45]],
    [[0.02,0.05],[0.06,0.55],[0.12,1.4],[0.2,1.75],[0.3,1.9],[0.4,1.7],[0.5,1.8],[0.6,1.7],[0.7,1.9],[0.8,1.85],[0.9,1.85],[0.93,1.95]],
    [[0.02,0.05],[0.1,1.05],[0.2,1.3],[0.3,1.35],[0.4,1.2],[0.5,1.45],[0.6,1.35],[0.7,1.3],[0.8,1.35],[0.9,1.25],[0.95,1.5],[0.97,1.8]],
    [[0.02,0.05],[0.08,0.7],[0.2,1.0],[0.3,0.95],[0.4,1.1],[0.5,0.9],[0.6,1.0],[0.7,0.95],[0.8,0.9],[0.88,0.95],[0.94,0.7],[0.98,1.5]],
    [[0.02,0.05],[0.06,0.4],[0.2,0.55],[0.4,0.65],[0.55,0.55],[0.7,0.6],[0.85,0.5],[0.9,0.3],[0.96,0.55]],
    [[0.02,0.03],[0.05,0.2],[0.2,0.28],[0.4,0.3],[0.6,0.25],[0.8,0.3],[0.95,0.25]],
]
CU_RATE_FIT = [[0.168,0.15],[0.348,15.75]]
CU_RATE_STARS = [[0.358,15.58],[0.34,15.35],[0.338,14.09],[0.331,13.56],[0.316,13.28],[0.315,12.22],[0.304,11.99],[0.29,11.18],[0.281,10.63],[0.267,8.57],[0.262,7.56],[0.228,6.18],[0.24,5.27],[0.236,4.63],[0.199,4.41],[0.195,3.6],[0.182,3.04],[0.184,2.22],[0.171,1.47]]
CU_RATE_OPEN = [[0.124,0.6],[0.06,0.25]]

# ---- tick labels ----
X_TICKS = [0, 0.2, 0.4, 0.6, 0.8, 1.0]
X_TICKTEXT = ["0.0", "0.2", "0.4", "0.6", "0.8", "1.0"]
X_MINOR = [0.1, 0.3, 0.5, 0.7, 0.9]
AG_T_TICKS = [950, 1000, 1050, 1100, 1150]
AG_T_MINOR = [975, 1025, 1075, 1125]
AG_TTC_TEXT = ["0.86", "0.91", "0.95", "1.00", "1.05"]
CU_T_TICKS = [1000, 1050, 1100, 1150, 1200]
CU_T_MINOR = [975, 1025, 1075, 1125, 1175]
CU_TTC_TEXT = ["0.89", "0.93", "0.98", "1.02", "1.07"]
AG_RATE_TICKS = [0, 4, 8, 12, 16]
AG_RATE_MINOR = [2, 6, 10, 14]
CU_RATE_TICKS = [0, 5, 10, 15, 20]
CU_RATE_MINOR = [2.5, 7.5, 12.5, 17.5]

# ======================= FIGURE =======================
FONT = "Liberation Sans, Arial, sans-serif"
RED = "#ff0000"
GREEN = "#008000"


def px(x):
    return x / W


def py(y):
    return 1 - y / H


fig = go.Figure()


def add_curves(curves, xa, ya, color, width, shape="spline", smoothing=1.0):
    for c in curves:
        line = dict(color=color, width=width, shape=shape)
        if shape == "spline":
            line["smoothing"] = smoothing
        fig.add_trace(go.Scatter(
            x=[p[0] for p in c], y=[p[1] for p in c], mode="lines", line=line,
            xaxis=xa, yaxis=ya, hoverinfo="skip", showlegend=False))


def add_markers(pts, xa, ya, symbol, size, color, lw=0, lc=None):
    fig.add_trace(go.Scatter(
        x=[p[0] for p in pts], y=[p[1] for p in pts], mode="markers",
        marker=dict(symbol=symbol, size=size, color=color,
                    line=dict(width=lw, color=lc if lc else color)),
        xaxis=xa, yaxis=ya, hoverinfo="skip", showlegend=False, cliponaxis=False))


def add_line(pts, xa, ya, color, width, dash=None, shape="spline"):
    fig.add_trace(go.Scatter(
        x=[p[0] for p in pts], y=[p[1] for p in pts], mode="lines",
        line=dict(color=color, width=width, dash=dash, shape=shape),
        xaxis=xa, yaxis=ya, hoverinfo="skip", showlegend=False))


# ---- top-left ----
add_curves(AG_RED, "x", "y", RED, 1.3)
add_curves(AG_BLACK, "x", "y", "black", 1.3)
add_line([[0, AG_TC], [AG_THETA_C, AG_TC]], "x", "y", "black", 3.5, dash="12px,8px", shape="linear")
add_line([[AG_THETA_C, 950], [AG_THETA_C, AG_TC]], "x", "y", "black", 3.5, dash="12px,8px", shape="linear")
add_line(AG_FIT, "x", "y", GREEN, 5.5)
add_markers(AG_TC_DOTS, "x", "y", "circle", 6, GREEN)
add_markers(AG_STARS, "x", "y", "star", 14, GREEN)
add_markers(AG_OPEN_STARS, "x", "y", "star-open", 13, "black", lw=1)
add_markers(AG_SPECK, "x", "y", "circle", 4, "black")

# ---- top-right ----
add_curves(CU_RED, "x2", "y2", RED, 1.3)
add_curves(CU_BLACK, "x2", "y2", "black", 1.3)
add_line([[0, CU_TC], [CU_THETA_C, CU_TC]], "x2", "y2", "black", 1.5, dash="dot", shape="linear")
add_line([[CU_THETA_C, 970], [CU_THETA_C, CU_TC]], "x2", "y2", "black", 1.5, dash="dot", shape="linear")
add_line(CU_FIT, "x2", "y2", GREEN, 5.5)
add_markers(CU_TC_DOTS, "x2", "y2", "circle", 6, GREEN)
add_markers(CU_STARS, "x2", "y2", "star", 14, GREEN)
add_markers(CU_OPEN_STARS, "x2", "y2", "star-open", 13, "black", lw=1)

# ---- bottom-left ----
add_curves(AG_RATE_RED, "x3", "y3", RED, 1.3, smoothing=0.8)
add_curves(AG_RATE_BLACK, "x3", "y3", "black", 1.2, smoothing=0.8)
add_line(AG_RATE_FIT, "x3", "y3", GREEN, 5.5, shape="linear")
add_markers(AG_RATE_STARS, "x3", "y3", "star", 14, GREEN)
add_markers(AG_RATE_OPEN, "x3", "y3", "star-open", 13, "black", lw=1)

# ---- bottom-right ----
add_curves(CU_RATE_RED, "x4", "y4", RED, 1.3, smoothing=0.8)
add_curves(CU_RATE_BLACK, "x4", "y4", "black", 1.2, shape="linear")
add_line(CU_RATE_FIT, "x4", "y4", GREEN, 5.5, shape="linear")
add_markers(CU_RATE_STARS, "x4", "y4", "star", 14, GREEN)
add_markers(CU_RATE_OPEN, "x4", "y4", "star-open", 13, "black", lw=1)

# ---- axes ----
TICKFONT = dict(family=FONT, size=43, color="black")
XL = [px(186), px(1361)]
XR = [px(1527), px(2701)]
YT = [py(902.6), py(62.5)]
YB = [py(1862.5), py(1022)]


def xcfg(domain, anchor):
    return dict(domain=domain, anchor=anchor, range=[0, 1], tickmode="array",
                tickvals=X_TICKS, ticktext=X_TICKTEXT, ticks="outside", ticklen=17,
                tickwidth=4, tickcolor="black", showline=True, linewidth=4.5,
                linecolor="black", mirror=True, showgrid=False, zeroline=False,
                minor=dict(tickvals=X_MINOR, ticks="outside", ticklen=10, tickwidth=4,
                           tickcolor="black", showgrid=False),
                tickfont=TICKFONT, automargin=False, fixedrange=True)


def ycfg(domain, anchor, rng, tv, minor, tl=22, ml=12):
    return dict(domain=domain, anchor=anchor, range=rng, tickmode="array", tickvals=tv,
                ticktext=[str(v) for v in tv], ticks="outside", ticklen=tl, tickwidth=4,
                tickcolor="black", showline=True, linewidth=4.5, linecolor="black",
                mirror=True, showgrid=False, zeroline=False,
                minor=dict(tickvals=minor, ticks="outside", ticklen=ml, tickwidth=4,
                           tickcolor="black", showgrid=False),
                tickfont=TICKFONT, automargin=False, fixedrange=True)


def ycfg_right(over, anchor, rng, tv, text, minor):
    return dict(overlaying=over, anchor=anchor, side="right", range=rng, tickmode="array",
                tickvals=tv, ticktext=text, ticks="outside", ticklen=18, tickwidth=4,
                tickcolor="black", showline=False, showgrid=False, zeroline=False,
                minor=dict(tickvals=minor, ticks="outside", ticklen=18, tickwidth=4,
                           tickcolor="black", showgrid=False),
                tickfont=TICKFONT, automargin=False, fixedrange=True)


fig.update_layout(
    width=W, height=H, autosize=False, template="none",
    paper_bgcolor="white", plot_bgcolor="white",
    margin=dict(l=0, r=0, t=0, b=0, pad=0),
    font=dict(family=FONT, color="black"),
    showlegend=False,
    xaxis=xcfg(XL, "y"),
    yaxis=ycfg(YT, "x", [950, 1175], AG_T_TICKS, AG_T_MINOR),
    xaxis2=xcfg(XR, "y2"),
    yaxis2=ycfg(YT, "x2", [970, 1200], CU_T_TICKS, CU_T_MINOR, tl=18, ml=18),
    xaxis3=xcfg(XL, "y3"),
    yaxis3=ycfg(YB, "x3", [0, 16], AG_RATE_TICKS, AG_RATE_MINOR),
    xaxis4=xcfg(XR, "y4"),
    yaxis4=ycfg(YB, "x4", [0, 20], CU_RATE_TICKS, CU_RATE_MINOR),
    yaxis5=ycfg_right("y", "x", [950, 1175], AG_T_TICKS, AG_TTC_TEXT, AG_T_MINOR),
    yaxis6=ycfg_right("y2", "x2", [970, 1200], CU_T_TICKS, CU_TTC_TEXT, CU_T_MINOR),
)
# give the overlay axes at least one (invisible) trace so they render
fig.add_trace(go.Scatter(x=[None], y=[None], xaxis="x", yaxis="y5", showlegend=False, hoverinfo="skip"))
fig.add_trace(go.Scatter(x=[None], y=[None], xaxis="x2", yaxis="y6", showlegend=False, hoverinfo="skip"))

# ---- boxes with drop shadows ----
shapes = []
for (bx0, by0, bx1, by1, off) in [(1007, 86, 1323, 212, 13), (2351, 93, 2669, 218, 15)]:
    shapes.append(dict(type="rect", xref="paper", yref="paper",
                       x0=px(bx0 + off), x1=px(bx1 + off), y0=py(by1 + off), y1=py(by0 + off),
                       fillcolor="black", line=dict(width=0), layer="above"))
    shapes.append(dict(type="rect", xref="paper", yref="paper",
                       x0=px(bx0), x1=px(bx1), y0=py(by1), y1=py(by0),
                       fillcolor="white", line=dict(color="black", width=4), layer="above"))
fig.update_layout(shapes=shapes)


def ann(text, x, y, size, color="black", xanchor="center", yanchor="middle", angle=0, bold=False):
    if bold:
        text = "<b>" + text + "</b>"
    fig.add_annotation(text=text, x=px(x), y=py(y), xref="paper", yref="paper",
                       showarrow=False, xanchor=xanchor, yanchor=yanchor, textangle=angle,
                       font=dict(family=FONT, size=size, color=color))


ann("T [K]", 110, 80, 50)
ann("Ag/Re(0001)", 1165, 150, 52)
ann("Cu/Re(0001)", 2510, 156, 52)
ann("T<sub>c</sub>=1100K", 878, 340, 50, color=RED, xanchor="left", bold=True)
ann("T<sub>c</sub>=1125K", 2198, 356, 50, color=RED, xanchor="left", bold=True)
ann("T/T<sub>c</sub>", 2790, 165, 50)
ann("T=1100K", 790, 1092, 52)
ann("T=1120K", 2010, 1082, 52)
ann("\u0398 [ML]", 1440, 1980, 47)
ann("Rate [10<sup>-3</sup>ML/K]", 63, 1466, 48, angle=-90)

fig.write_html("out.html", config={"displayModeBar": False, "staticPlot": True},
               post_script="document.body.style.margin='0px';document.body.style.overflow='hidden';")
